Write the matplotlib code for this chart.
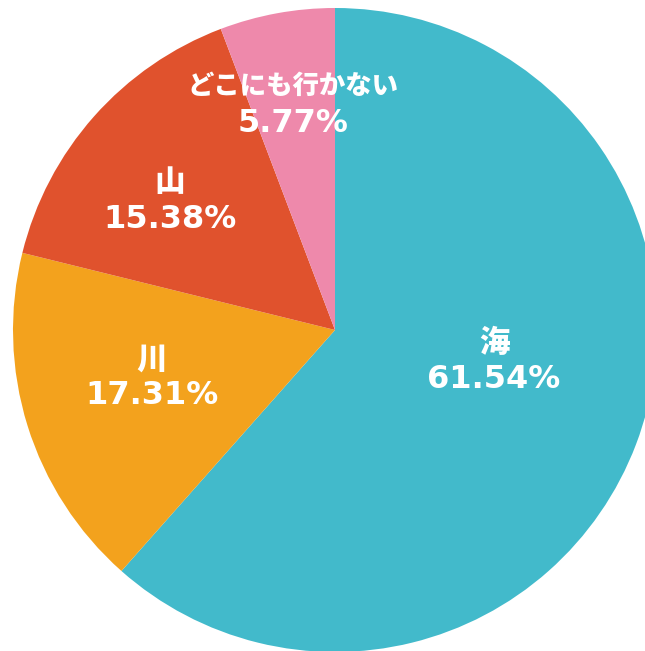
import matplotlib.pyplot as plt

plt.rcParams['font.family'] = ['Noto Sans CJK JP', 'DejaVu Sans']

labels = ['海', '川', '山', 'どこにも行かない']
shares = [61.54, 17.31, 15.38, 5.77]
colors = ['#42BACB', '#F3A21D', '#E0522D', '#EE89AB']

# label anchor points in pixel coords (x, y from top)
label_pos = [(494, 361), (152, 378), (170, 201), (293, 105)]
name_size = [22, 22, 22, 19]

W, H = 645, 651
fig = plt.figure(figsize=(W / 100, H / 100), dpi=100)
ax = fig.add_axes([0, 0, 1, 1])

ax.pie(shares, colors=colors, startangle=90, counterclock=False,
       center=(335, H - 330), radius=322, frame=True,
       wedgeprops=dict(linewidth=0))
ax.set_xlim(0, W)
ax.set_ylim(0, H)
ax.axis('off')

for lab, val, (x, y), fs in zip(labels, shares, label_pos, name_size):
    ax.text(x, H - y + 19, lab, ha='center', va='center', color='white',
            fontsize=fs, fontweight='heavy')
    ax.text(x, H - y - 18, f'{val:.2f}%', ha='center', va='center',
            color='white', fontsize=23, fontweight='bold',
            family='DejaVu Sans')

fig.savefig('out.png', dpi=100)
